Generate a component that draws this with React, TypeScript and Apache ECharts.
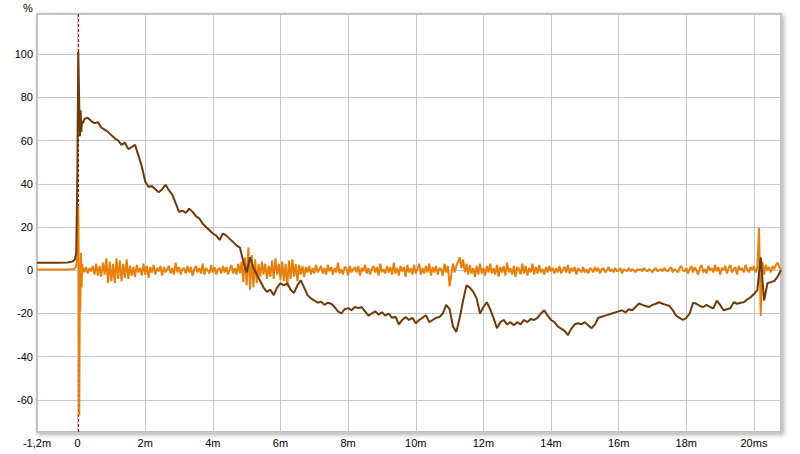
import React, { useEffect, useRef } from "react";
import * as echarts from "echarts";

// ---- Data (time in ms, values in %) ----
// Step response (brown): detailed samples around the peak, then 0.1 ms grid from 0.2 ms
const stepPreTimes = [-1.2, -0.6, -0.3, -0.15, -0.08, -0.04, -0.01, 0.02, 0.05, 0.07, 0.09, 0.11, 0.13, 0.16];
const stepPreValues = [3.5, 3.5, 3.6, 4, 5, 8, 40, 101, 76, 62, 74, 64, 69, 68];
const stepGridStart = 0.2;
const stepGridStep = 0.1;
const stepGridValues = [
  70, 70.5, 69, 68, 68.5, 66, 65, 64, 62.5, 61,
  60, 58, 59, 56, 57, 58, 53, 48, 41, 38.5,
  39, 37.5, 36, 37.5, 39.5, 37, 35, 31, 27, 27.5,
  26.5, 28.5, 27, 25, 24, 21.5, 20, 18.5, 17, 16,
  14, 17, 16, 14.5, 13, 11.5, 10.5, 4, -1, 6,
  1, -2, -5, -8, -10, -9, -11.5, -8, -6, -7,
  -6, -9, -10.5, -7, -4.6, -8, -11.5, -13, -14, -15,
  -14.5, -16, -15, -15.5, -17, -19, -20, -18, -17.5, -18.5,
  -17, -17.5, -17, -19, -21, -20, -19, -20.5, -19.4, -21,
  -20, -22, -21.5, -25, -23, -21.6, -23, -22, -24.5, -23,
  -22, -20.8, -24, -23, -22, -21.6, -20, -16, -18, -26,
  -28.5, -22, -14, -7, -8, -10, -13, -20, -17, -14.8,
  -18, -22, -26.8, -24, -23, -25, -24, -25.4, -24, -25,
  -23, -24, -22.5, -23, -22, -20, -18.5, -21, -23, -24,
  -26, -27, -28, -30, -27, -25, -24.5, -25, -24, -25.5,
  -26.8, -25, -22, -21.5, -21, -20.5, -20, -19.5, -19, -18.5,
  -19.5, -18, -18.5, -17, -15.4, -16, -16.5, -17, -16, -15.5,
  -14.8, -15.5, -16, -16.5, -18.5, -21, -22, -23, -22, -20,
  -15, -15.5, -16.5, -17, -16, -17, -17.6, -14, -16, -18.5,
  -18, -17.6, -14.8, -15.5, -15, -14.8, -13.5, -12.5, -11, -9.2,
  6, -14, -6, -5.5, -5, -3, 0,
];

// Impulse response (orange): detailed samples around the peak, then 0.05 ms grid from 0.2 ms
const impulsePreTimes = [-1.2, -0.3, -0.1, -0.05, -0.02, 0.0, 0.02, 0.035, 0.05, 0.065, 0.08, 0.1, 0.12, 0.14, 0.16, 0.18];
const impulsePreValues = [0.3, 0.3, 0.6, 1.5, 4, 14, 30, 2, -67, -10, -19, 8, -8, 3, -1, 1];
const impulseGridStart = 0.2;
const impulseGridStep = 0.05;
const impulseGridValues = [
  -1, 1.5, -1.5, 1, -0.5, 2, -2, 3, -2.5, 2, -3, 3.5, -2, 5.5, -6, 4, -5, 3, -6, 5.5,
  -4, 4.5, -5, 3, -3.5, 5, -4, 2, -2.5, 1.5, -3, 2.5, -1, 1, -2.5, 3, -2, 2, -3.5, 1.5,
  -1, 2.5, -2, 1, -0.5, 2, -2.5, 1.5, -1, 0.5, 2, -1.5, 1, -2, 3.5, -1, 1.5, -2, 0.5, 1,
  -1.5, 2, -1, 1.5, -2.5, 0.5, 2, -1, 1, -1.5, 3, -2, 1, 0, -1.5, 2.5, -1, 1.5, -2, 0.5,
  1, -1.5, 2, -1, 1.5, -2, 0.5, 2.5, -1.5, 1, -2, 3, -1.4, 4, -5.5, 6, -7, 10.5, -9, 7,
  -8, 5, -6, 3, -3, 4, -2, 3, -4, 2, -3, 4.5, -4, 5.5, -2, 3, -4.5, 4, -5, 3,
  -7.5, 4.5, -4, 5, -3, 3, -5, 2.5, -2, 2, -3, 1.5, -1, 2, -2, 1, -1.5, 2.5, -1, 0.5,
  2, -1.5, 1, -2, 2.5, -0.5, 1.5, -2, 1, -1, 3.5, -1.5, 0.5, -2, 1.5, 1, -2.5, 2, -1, 0.5,
  1.5, -1, 2, -2.5, 1, -0.5, 2.5, -1.5, 1, -2, 0.5, 2, -1, 1.5, -2.5, 3, -1, 0.5, -1.5, 2,
  -1, 1.5, -2, 3.5, -1.5, 1, -2.5, 2, -0.5, 1.5, -3, 2.5, -1, 1, -2, 2.5, -1.5, 0.5, 3, -2,
  1, -1.5, 2, -1, 3, -2.5, 1.5, -1, 2, -2, 1, 0.5, -2.5, 3, -1, 2, -7.5, -2, 3, -1,
  2, 4, 6, 1, 5, -1, 3, -2, 2.5, -1.5, 1, -3, 2, -2, 3, -1.5, 1, -2.5, 2, -1,
  3, -1.5, 1, -2, 2.5, -3, 1.5, -1, 2, -2.5, 3.5, -1, 1, -2, 2, -3, 1.5, 0.5, -2, 3,
  -1.5, 2, -2.5, 1, -1, 3, -2, 1.5, -1.5, 2.5, -1, 0.5, -2, 1.5, -1, 2, -0.5, 1, -1.5, 1,
  -1, 2, -1.5, 0.5, 1.5, -1, 2.5, -1.5, 1, -0.5, 1.5, -2, 1, 0, -1, 1.5, -1, 0.5, -1.5, 1,
  0.5, -1, 1.5, -0.5, 1, -1.5, 0.5, 1, -1, 0, 1.5, -0.5, 0.5, -1, 1, -0.5, 0, 1, -1.5, 0.5,
  0, -0.5, 1, -0.5, 0.5, 0, -1, 0.5, 0, 0.5, -0.5, 1, 0, -0.5, 0.5, 0, -1, 0.5, 1, -0.5,
  0, 0.5, -0.5, 1, 0, -0.5, 0.5, 1.5, -1, 0.5, 0, -1, 1, 2, 0, -0.5, 1, -1.5, 0.5, 2,
  -1, 1.5, 0, -2, 1, 2.5, -1, 0.5, -1.5, 2, 0, 1, -1, 2.5, -0.5, 1.5, -2, 1, 0, 2,
  -1.5, 1, 2.5, -1, 0.5, 1.5, -2, 2, 0, 1, -1, 2.5, 0.5, -1, 1.5, 0, 2, -1, 1, 19.5,
  -21, 4, -2, 2.5, 0, 1.5, -1, 2, 0.5, 2.5, 3.5, 1.5, 0,
];

const markerTime = 0;

const xMin = -1.2;
const xMax = 20.8;
const yMin = -74.8;
const yMax = 118.5;

function buildPairs(preT: number[], preV: number[], start: number, step: number, vals: number[]) {
  const out: [number, number][] = [];
  for (let i = 0; i < preT.length; i++) out.push([preT[i], preV[i]]);
  for (let i = 0; i < vals.length; i++) out.push([+(start + i * step).toFixed(3), vals[i]]);
  return out;
}

const FONT = "'Liberation Sans', Arial, sans-serif";

export default function App() {
  const ref = useRef<HTMLDivElement>(null);
  useEffect(() => {
    if (!ref.current) return;
    const chart = echarts.init(ref.current, undefined, { renderer: "svg" });
    const stepData = buildPairs(stepPreTimes, stepPreValues, stepGridStart, stepGridStep, stepGridValues);
    const impulseData = buildPairs(impulsePreTimes, impulsePreValues, impulseGridStart, impulseGridStep, impulseGridValues);
    chart.setOption({
      animation: false,
      backgroundColor: "#ffffff",
      grid: {
        left: 37,
        top: 14,
        right: 19,
        bottom: 22,
        show: true,
        backgroundColor: "#ffffff",
        borderColor: "#bdbdbd",
        borderWidth: 2,
        shadowColor: "rgba(0,0,0,0.3)",
        shadowBlur: 4,
        shadowOffsetX: 2,
        shadowOffsetY: 2,
      },
      graphic: [
        {
          id: "pct",
          type: "text",
          left: 23,
          top: 2,
          style: { text: "%", font: `11px ${FONT}`, fill: "#000" },
        },
      ],
      xAxis: {
        type: "value",
        min: xMin,
        max: xMax,
        splitNumber: 11,
        axisLine: { show: false },
        axisTick: { show: false },
        splitLine: { show: true, lineStyle: { color: "#c8c8c8", width: 1 } },
        axisLabel: {
          showMinLabel: true,
          showMaxLabel: false,
          margin: 5,
          color: "#000",
          fontSize: 11,
          fontFamily: FONT,
          formatter: (v: number) => {
            if (Math.abs(v) < 1e-9) return "0";
            const r = Math.round(v * 10) / 10;
            const s = String(r).replace(".", ",");
            return Math.abs(r - 20) < 1e-9 ? s + "ms" : s + "m";
          },
        },
      },
      yAxis: {
        type: "value",
        min: yMin,
        max: yMax,
        splitNumber: 10,
        axisLine: { show: false },
        axisTick: { show: false },
        splitLine: { show: true, lineStyle: { color: "#c8c8c8", width: 1 } },
        axisLabel: {
          showMinLabel: false,
          showMaxLabel: false,
          margin: 4,
          color: "#000",
          fontSize: 11,
          fontFamily: FONT,
        },
      },
      series: [
        {
          type: "line",
          name: "Step",
          data: stepData,
          showSymbol: false,
          symbol: "none",
          z: 3,
          lineStyle: { color: "#6e3a0a", width: 2 },
          silent: true,
        },
        {
          type: "line",
          name: "Impulse",
          data: impulseData,
          showSymbol: false,
          symbol: "none",
          z: 2,
          lineStyle: { color: "#e8800c", width: 2 },
          silent: true,
        },
      ],
    });
    // red dashed marker at t = 0, positioned through the chart's own scales
    const px = Math.round(chart.convertToPixel({ xAxisIndex: 0 }, markerTime) as number) + 0.5;
    const yTop = chart.convertToPixel({ yAxisIndex: 0 }, yMax) as number;
    const yBot = chart.convertToPixel({ yAxisIndex: 0 }, yMin) as number;
    chart.setOption({
      graphic: [
        {
          id: "marker",
          type: "line",
          z: 1,
          silent: true,
          shape: { x1: px, y1: yTop, x2: px, y2: yBot },
          style: { stroke: "#c80000", lineWidth: 1, lineDash: [3, 2] },
        },
      ],
    });
    return () => chart.dispose();
  }, []);
  return (
    <div
      ref={ref}
      style={{ position: "fixed", left: 0, top: 0, width: 800, height: 454, background: "#fff" }}
    />
  );
}
